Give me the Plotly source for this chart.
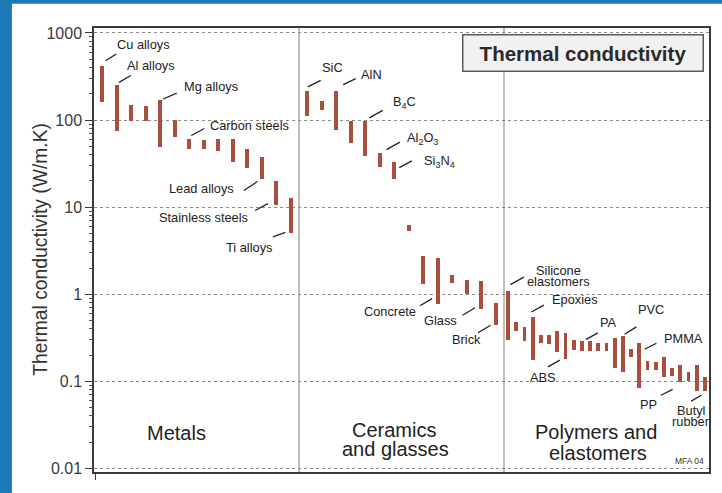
import numpy as np
import plotly.graph_objects as go

# ---------------- data ----------------
group_names = ["Metals", "Ceramics and glasses", "Polymers and elastomers"]

metals_low = [160, 75, 97, 97, 49, 64, 47, 46, 44, 33, 28, 21, 10.7, 5.0]
metals_high = [420, 255, 150, 145, 170, 100, 61, 59, 61, 60, 47, 38, 20, 12.8]

ceramics_low = [111, 132, 76, 54, 38.5, 29, 21, 5.3, 1.3, 0.78, 1.36, 1.0, 0.67, 0.44]
ceramics_high = [214, 167, 214, 97, 97, 42, 33, 6.2, 2.74, 2.58, 1.65, 1.44, 1.42, 0.80]

polymers_low = [0.30, 0.38, 0.29, 0.176, 0.274, 0.27, 0.217, 0.182, 0.229, 0.225,
                0.225, 0.223, 0.223, 0.141, 0.129, 0.188, 0.0834, 0.135, 0.134, 0.111,
                0.115, 0.098, 0.101, 0.0776, 0.0776]
polymers_high = [1.10, 0.485, 0.425, 0.548, 0.338, 0.338, 0.379, 0.356, 0.299, 0.29,
                 0.29, 0.274, 0.274, 0.318, 0.332, 0.238, 0.274, 0.170, 0.168, 0.188,
                 0.144, 0.154, 0.129, 0.154, 0.112]

# material names: (group, bar index, end of bar the leader points at, text lines)
metals_names = [
    (0, "high", ["Cu alloys"]),
    (1, "high", ["Al alloys"]),
    (4, "high", ["Mg alloys"]),
    (6, "high", ["Carbon steels"]),
    (11, "low", ["Lead alloys"]),
    (12, "low", ["Stainless steels"]),
    (13, "low", ["Ti alloys"]),
]
ceramics_names = [
    (0, "high", ["SiC"]),
    (2, "high", ["AlN"]),
    (4, "high", ["B<sub>4</sub>C"]),
    (5, "high", ["Al<sub>2</sub>O<sub>3</sub>"]),
    (6, "high", ["Si<sub>3</sub>N<sub>4</sub>"]),
    (9, "low", ["Concrete"]),
    (12, "low", ["Glass"]),
    (13, "low", ["Brick"]),
]
polymers_names = [
    (0, "high", ["Silicone", "elastomers"]),
    (3, "high", ["Epoxies"]),
    (10, "high", ["PA"]),
    (14, "high", ["PVC"]),
    (16, "high", ["PMMA"]),
    (7, "low", ["ABS"]),
    (20, "low", ["PP"]),
    (23, "low", ["Butyl", "rubber"]),
]

y_tick_values = [0.01, 0.1, 1, 10, 100, 1000]
y_tick_text = ["0.01", "0.1", "1", "10", "100", "1000"]

# ---------------- layout constants ----------------
W, H = 722, 493
L, R, T, B = 94, 11.3, 28.3, 20.7
PLOT_W = W - L - R
PLOT_H = H - T - B
Y_RANGE = [-2.041, 3.057]
BAR_COLOR = "#a84f3d"
INK = "#222222"
FONT = "Liberation Sans, Arial, Helvetica, sans-serif"
GROUP_PAD = [0.04, 0.04, 0.02]
BAR_PX = 4.0

px_per_unit = PLOT_W / 3.0


def px_to_paper_x(px):
    return (px - L) / PLOT_W


def px_to_paper_y(py):
    return (H - B - py) / PLOT_H


# leader / text placement in screen pixels relative to the bar end:
# (head dx, head dy), (tail dx, tail dy), (text dx, text dy), line spacing
placement = {
    "Cu alloys": ((3.3, -5), (15.6, -12.7), (41.3, -21)),
    "Al alloys": ((2.3, -2.3), (15.6, -10), (34, -19)),
    "Mg alloys": ((3, -1), (18, -7.5), (50.5, -13)),
    "Carbon steels": ((2, -3.3), (16.6, -11), (60.1, -13.3)),
    "Lead alloys": ((-4.4, 2.4), (-19.4, 12.4), (-60.2, 9)),
    "Stainless steels": ((-8.4, -1), (-22.7, 6.7), (-72.7, 13.3)),
    "Ti alloys": ((-5.4, -1), (-19.4, 4), (-42.2, 14)),
    "SiC": ((0.6, -4.4), (15, -11.7), (25.1, -23.4)),
    "AlN": ((7, -6.7), (21, -13.4), (35.1, -16.7)),
    "B<sub>4</sub>C": ((4, -3.4), (19, -11.7), (39, -19)),
    "Al<sub>2</sub>O<sub>3</sub>": ((6.7, -3.3), (21.7, -11.6), (43, -14)),
    "Si<sub>3</sub>N<sub>4</sub>": ((5, 5.6), (19, -2), (45, 0)),
    "Concrete": ((-5.6, -5), (-19.3, 3), (-47.5, 7.4)),
    "Glass": ((-6.3, -1.7), (-20.3, 6.7), (-40.7, 10.7)),
    "Brick": ((-5.3, 0), (-19.3, 8.3), (-29.5, 14.3)),
    "Silicone": ((2.3, -6), (17.3, -14.3), (50.3, -20.5)),
    "Epoxies": ((-1.3, -5), (12.7, -12.7), (42, -17.7)),
    "PA": ((-4, -1.7), (9.3, -9), (18.8, -19)),
    "PVC": ((1.7, -1.7), (15, -10), (28.4, -26.7)),
    "PMMA": ((5.3, 6), (18.6, -0.7), (44.3, -4.7)),
    "ABS": ((-5.7, 1.4), (-19, 9), (-22.4, 19)),
    "PP": ((0.6, 13.3), (-12.7, 20), (-23.5, 28.3)),
    "Butyl": ((4.7, 4.3), (-7, 11), (-5.3, 20)),
}
LINE_GAP = 11.0


def positions(group, n):
    pad = GROUP_PAD[group]
    step = (1 - 2 * pad) / (n - 1)
    return [group + pad + i * step for i in range(n)]


groups = [
    (metals_low, metals_high, metals_names),
    (ceramics_low, ceramics_high, ceramics_names),
    (polymers_low, polymers_high, polymers_names),
]

fig = go.Figure()
annotations = []
label_font = dict(family=FONT, size=12.8, color=INK)

for g, (lows, highs, names) in enumerate(groups):
    xs = positions(g, len(lows))
    lo = np.array(lows, dtype=float)
    hi = np.array(highs, dtype=float)
    fig.add_trace(go.Bar(
        x=xs, y=hi - lo, base=lo,
        width=BAR_PX / px_per_unit,
        marker=dict(color=BAR_COLOR, line=dict(width=0)),
        name=group_names[g], showlegend=False, hoverinfo="skip",
    ))
    for idx, end, lines in names:
        xv = xs[idx]
        yv = np.log10(hi[idx] if end == "high" else lo[idx])
        (hx, hy), (tx, ty), (cx, cy) = placement[lines[0]]
        annotations.append(dict(
            x=xv, y=yv, xref="x", yref="y", text="",
            showarrow=True, arrowhead=0, arrowwidth=1.3, arrowcolor=INK,
            axref="pixel", ayref="pixel", ax=tx - hx, ay=ty - hy,
            xshift=hx, yshift=-hy, standoff=0, startstandoff=0,
        ))
        for k, line in enumerate(lines):
            annotations.append(dict(
                x=xv, y=yv, xref="x", yref="y", text=line, showarrow=False,
                xanchor="center", yanchor="middle",
                xshift=cx, yshift=-(cy + k * LINE_GAP), font=label_font,
            ))

# category captions inside each section
group_font = dict(family=FONT, size=20, color=INK)
captions = [
    ("Metals", 176.7, 433.0),
    ("Ceramics", 395.0, 430.7),
    ("and glasses", 396.7, 449.6),
    ("Polymers and", 597.0, 432.7),
    ("elastomers", 599.3, 453.3),
]
for text, px, py in captions:
    annotations.append(dict(
        x=px_to_paper_x(px), y=px_to_paper_y(py), xref="paper", yref="paper",
        text=text, showarrow=False, xanchor="center", yanchor="middle",
        font=group_font,
    ))

# boxed chart title
annotations.append(dict(
    x=px_to_paper_x(584.2), y=px_to_paper_y(53.7), xref="paper", yref="paper",
    text="<b>Thermal conductivity</b>", showarrow=False,
    xanchor="center", yanchor="middle", width=236, height=32,
    bgcolor="#f1f1f1", bordercolor="#5a5a5a", borderwidth=1.5, borderpad=1.5,
    font=dict(family=FONT, size=20.5, color="#2a2a2a"),
))

# y axis title
annotations.append(dict(
    x=px_to_paper_x(40.5), y=px_to_paper_y(249.5), xref="paper", yref="paper",
    text="Thermal conductivity (W/m.K)", textangle=-90, showarrow=False,
    xanchor="center", yanchor="middle",
    font=dict(family=FONT, size=19.3, color="#333333"),
))

# source mark
annotations.append(dict(
    x=px_to_paper_x(691.3), y=px_to_paper_y(461.7), xref="paper", yref="paper",
    text="MFA 04", showarrow=False, xanchor="center", yanchor="middle",
    font=dict(family=FONT, size=8.5, color="#333333"),
))

shapes = [
    # white panel on the blue page
    dict(type="rect", xref="paper", yref="paper",
         x0=px_to_paper_x(11.7), x1=px_to_paper_x(W + 5),
         y0=px_to_paper_y(H + 5), y1=px_to_paper_y(4.0),
         fillcolor="white", line=dict(width=0), layer="below"),
]
# section dividers
for xv in (1, 2):
    shapes.append(dict(type="line", xref="x", yref="paper", x0=xv, x1=xv, y0=0, y1=1,
                       line=dict(color="#9c9c9c", width=1.3), layer="below"))

minor_vals = [m * 10.0 ** e for e in range(-2, 3) for m in range(2, 10)]

fig.update_layout(
    width=W, height=H,
    margin=dict(l=L, r=R, t=T, b=B, pad=0),
    paper_bgcolor="#1d79b6",
    plot_bgcolor="white",
    font=dict(family=FONT, color="#333333"),
    bargap=0,
    annotations=annotations,
    shapes=shapes,
    xaxis=dict(
        range=[0, 3], showgrid=False, zeroline=False,
        showline=True, mirror=True, linecolor="#3a3a3a", linewidth=1.5,
        tickmode="array", tickvals=[0.008], ticktext=[""],
        ticks="outside", ticklen=6, tickcolor="#3a3a3a", tickwidth=1.2,
        fixedrange=True,
    ),
    yaxis=dict(
        type="log", range=Y_RANGE,
        tickmode="array", tickvals=y_tick_values, ticktext=y_tick_text,
        ticks="outside", ticklen=7, tickwidth=1.2, tickcolor="#3a3a3a",
        tickfont=dict(family=FONT, size=16, color="#3a3a3a"),
        showgrid=True, gridcolor="#8a8a8a", gridwidth=1, griddash="dot",
        zeroline=False, showline=True, mirror=True,
        linecolor="#3a3a3a", linewidth=1.5,
        minor=dict(tickmode="array", tickvals=minor_vals, ticks="outside",
                   ticklen=3.5, tickwidth=1, tickcolor="#555555", showgrid=False),
        fixedrange=True,
    ),
)

fig.write_html("out.html")
